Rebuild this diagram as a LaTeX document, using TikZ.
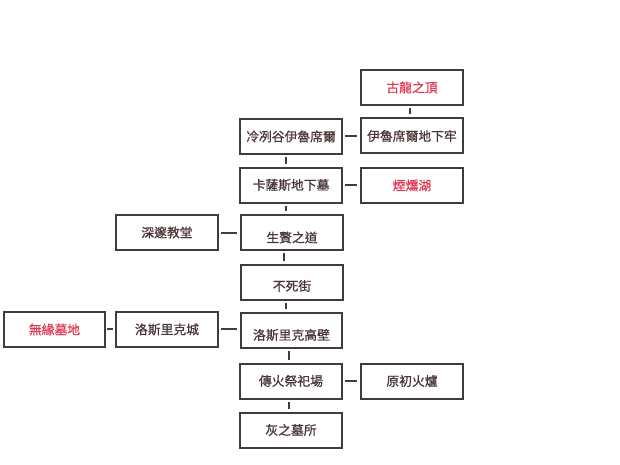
\documentclass[tikz,border=0pt]{standalone}
\usepackage{fontspec}
\newfontfamily\cjk[FakeBold=0.7]{Noto Sans CJK TC}
\definecolor{linec}{HTML}{403C3C}
\definecolor{textc}{HTML}{4A3638}
\definecolor{redc}{HTML}{E03A52}
\tikzset{
  box/.style={draw=linec, line width=2pt, minimum width=101.5pt, minimum height=35pt, inner sep=0pt},
  txt/.style={font=\cjk\fontsize{12.8}{13}\selectfont, text=textc, inner sep=0pt},
  red/.style={text=redc},
  conn/.style={draw=linec, line width=2pt, shorten <=2pt, shorten >=3pt}
}
\begin{document}
\begin{tikzpicture}[x=1pt,y=-1pt]
\useasboundingbox[fill=white] (0,0) rectangle (620,465);
\node[box, label={[txt,red]center:古龍之頂}] (gulong) at (412,87.5) {};
\node[box, label={[txt]center:冷冽谷伊魯席爾}] (lengl) at (291,136.5) {};
\node[box, label={[txt]center:伊魯席爾地下牢}] (yilu) at (412,136) {};
\node[box, label={[txt]center:卡薩斯地下墓}] (kasas) at (291,185) {};
\node[box, label={[txt,red]center:煙燻湖}] (yanxun) at (412,185.5) {};
\node[box, label={[txt]center:深邃教堂}] (shensui) at (167,232.5) {};
\node[box, label={[txt,yshift=-5pt]center:生贅之道}] (shengzan) at (292,232.5) {};
\node[box, label={[txt,yshift=-4pt]center:不死街}] (busi) at (292,282) {};
\node[box, label={[txt,red]center:無緣墓地}] (wuyuan) at (54.5,329.5) {};
\node[box, label={[txt]center:洛斯里克城}] (luocheng) at (167,329.5) {};
\node[box, label={[txt,yshift=-5pt]center:洛斯里克高壁}] (gaobi) at (291.5,330) {};
\node[box, label={[txt]center:傳火祭祀場}] (chuanhuo) at (291,381) {};
\node[box, label={[txt]center:原初火爐}] (yuanchu) at (412,381) {};
\node[box, label={[txt]center:灰之墓所}] (hui) at (291,430) {};
% vertical connectors
\draw[conn] ([xshift=-2pt]gulong.south) -- ([xshift=-2pt]gulong.south |- yilu.north);
\draw[conn] ([xshift=-5pt]lengl.south) -- ([xshift=-5pt]lengl.south |- kasas.north);
\draw[conn] ([xshift=-5pt]kasas.south) -- ([xshift=-5pt]kasas.south |- shengzan.north);
\draw[conn] ([xshift=-8pt]shengzan.south) -- ([xshift=-8pt]shengzan.south |- busi.north);
\draw[conn] ([xshift=-6pt]busi.south) -- ([xshift=-6pt]busi.south |- gaobi.north);
\draw[conn] ([xshift=-3pt]gaobi.south) -- ([xshift=-3pt]gaobi.south |- chuanhuo.north);
\draw[conn] ([xshift=-2pt]chuanhuo.south) -- ([xshift=-2pt]chuanhuo.south |- hui.north);
% horizontal connectors
\draw[conn] (lengl.east) -- (lengl.east -| yilu.west);
\draw[conn] (kasas.east) -- (kasas.east -| yanxun.west);
\draw[conn] (shensui.east) -- (shensui.east -| shengzan.west);
\draw[conn, shorten <=1pt, shorten >=2pt] ([yshift=1pt]wuyuan.east) -- ([yshift=1pt]wuyuan.east -| luocheng.west);
\draw[conn] ([yshift=1pt]luocheng.east) -- ([yshift=1pt]luocheng.east -| gaobi.west);
\draw[conn] (chuanhuo.east) -- (chuanhuo.east -| yuanchu.west);
\end{tikzpicture}
\end{document}
